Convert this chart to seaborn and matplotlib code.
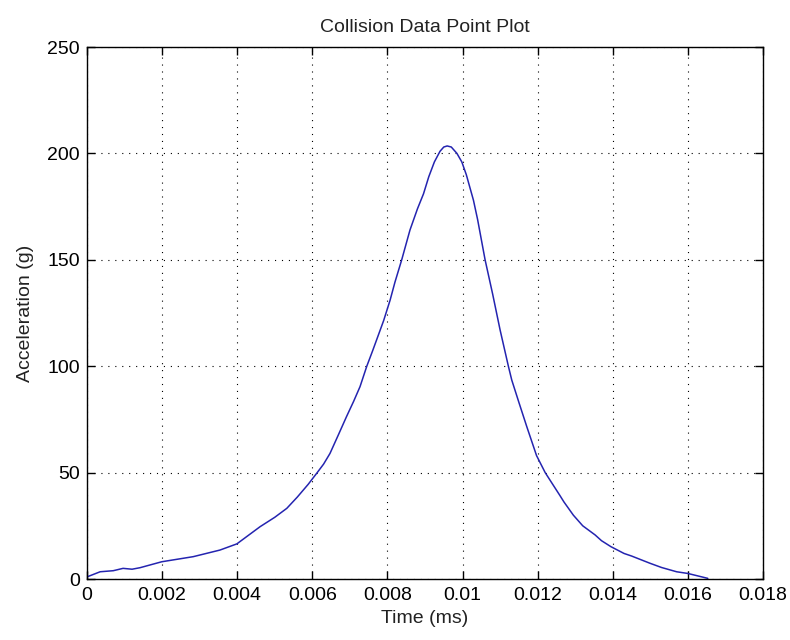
import matplotlib
matplotlib.use("Agg")
import matplotlib.pyplot as plt
import seaborn as sns
import pandas as pd
from matplotlib.ticker import FuncFormatter

# Data
time_ms = [0.00000, 0.00006, 0.00035, 0.00070, 0.00096, 0.00120, 0.00141, 0.00199,
           0.00283, 0.00354, 0.00399, 0.00461, 0.00500, 0.00532, 0.00560, 0.00589,
           0.00613, 0.00630, 0.00647, 0.00670, 0.00691, 0.00710, 0.00727, 0.00745,
           0.00760, 0.00771, 0.00790, 0.00807, 0.00820, 0.00838, 0.00860, 0.00880,
           0.00896, 0.00910, 0.00925, 0.00940, 0.00950, 0.00959, 0.00970, 0.00985,
           0.00998, 0.01010, 0.01029, 0.01040, 0.01060, 0.01080, 0.01100, 0.01122,
           0.01131, 0.01150, 0.01171, 0.01197, 0.01220, 0.01240, 0.01259, 0.01270,
           0.01295, 0.01320, 0.01353, 0.01370, 0.01395, 0.01430, 0.01450, 0.01499,
           0.01530, 0.01570, 0.01600, 0.01653]
accel_g = [1.0, 1.4, 3.4, 3.9, 5.0, 4.6, 5.3, 8.1,
           10.5, 13.6, 16.5, 24.6, 29.0, 33.2, 38.5, 44.5,
           50.0, 54.0, 59.0, 68.0, 76.3, 83.5, 90.4, 100.0,
           107.0, 112.3, 121.5, 131.0, 139.5, 150.0, 164.0, 174.0,
           181.0, 189.0, 196.0, 201.0, 203.0, 203.5, 203.0, 200.0,
           196.0, 190.0, 178.0, 169.0, 150.0, 134.0, 117.0, 100.0,
           93.5, 83.0, 71.6, 58.0, 50.0, 44.5, 39.3, 36.2,
           30.0, 25.0, 20.7, 18.0, 15.2, 12.0, 10.8, 7.4,
           5.4, 3.4, 2.6, 0.3]
x_ticks = [0, 0.002, 0.004, 0.006, 0.008, 0.01, 0.012, 0.014, 0.016, 0.018]
y_ticks = [0, 50, 100, 150, 200, 250]

df = pd.DataFrame({"Time (ms)": time_ms, "Acceleration (g)": accel_g})

sns.set_style("white")
plt.rcParams["font.family"] = ["Liberation Sans", "DejaVu Sans"]

fig = plt.figure(figsize=(7.9, 6.4), dpi=100)
fig.subplots_adjust(left=87/790, right=763/790, top=1-47/640, bottom=1-579/640)
ax = fig.add_subplot(111)

sns.lineplot(data=df, x="Time (ms)", y="Acceleration (g)", ax=ax,
             color="#2424b0", linewidth=1.1, sort=False, estimator=None)

ax.set_xlim(0, 0.018)
ax.set_ylim(0, 250)
ax.set_xticks(x_ticks)
ax.set_yticks(y_ticks)
ax.xaxis.set_major_formatter(FuncFormatter(lambda v, p: f"{v:g}"))
ax.yaxis.set_major_formatter(FuncFormatter(lambda v, p: f"{v:g}"))

ax.grid(True, color="black", linestyle=(0, (1, 5.25)), linewidth=0.8)
ax.set_axisbelow(True)
for s in ax.spines.values():
    s.set_visible(True)
    s.set_color("black")
    s.set_linewidth(1.0)

ax.tick_params(axis="both", which="major", direction="in", length=6, width=1.0,
               colors="black", labelsize=14, top=True, right=True,
               bottom=True, left=True, pad=5)
ax.tick_params(axis="x", pad=6)

ax.set_xlabel("Time (ms)", fontsize=14, labelpad=4, color="#222222")
ax.set_ylabel("Acceleration (g)", fontsize=14, labelpad=10, color="#222222")
ax.set_title("Collision Data Point Plot", fontsize=14, pad=11, color="#222222")

fig.savefig("out.png", dpi=100, facecolor="white")
